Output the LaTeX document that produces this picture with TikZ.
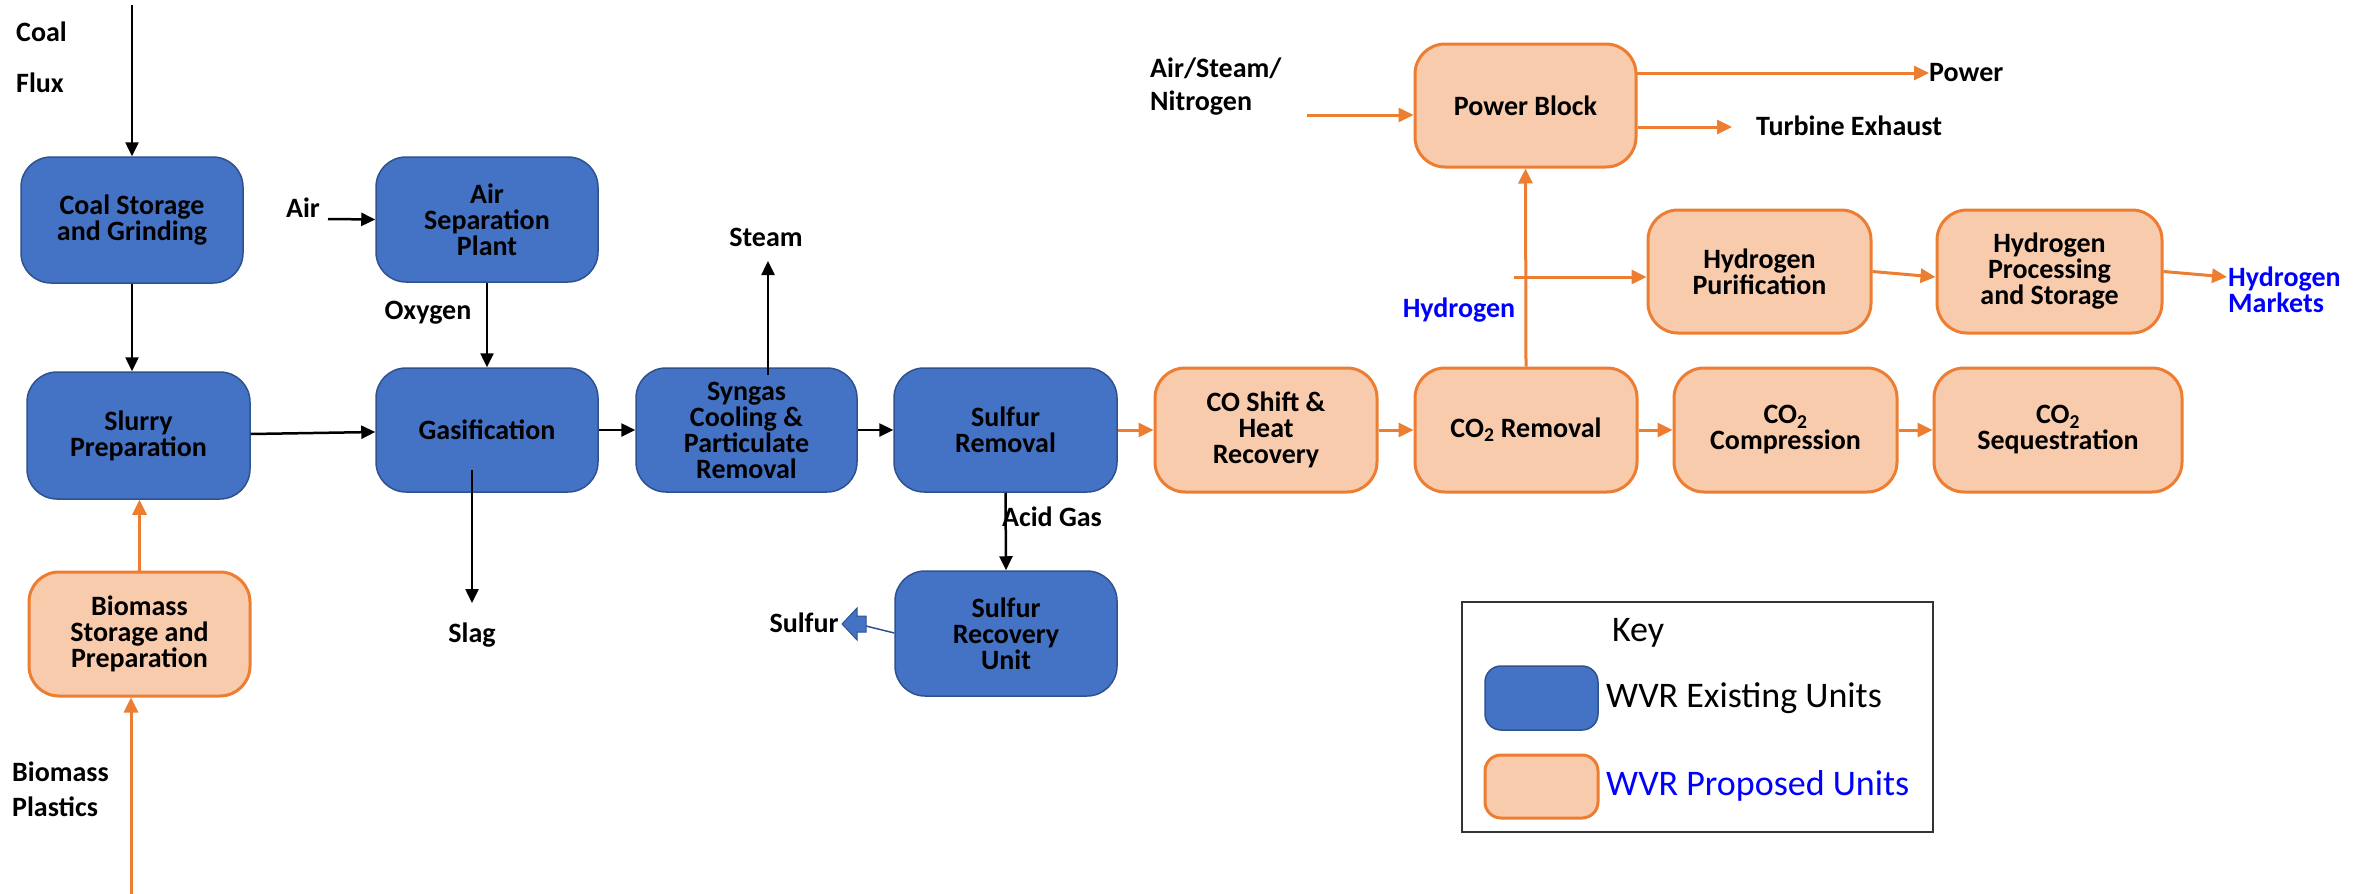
\documentclass[tikz,border=0pt]{standalone}
\usepackage{fontspec}
\setmainfont{Carlito}
\usetikzlibrary{arrows.meta}
\definecolor{bluefill}{HTML}{4472C4}
\definecolor{blueedge}{HTML}{2F528F}
\definecolor{orfill}{HTML}{F8CBAD}
\definecolor{oredge}{HTML}{ED7D31}
\definecolor{txtblue}{HTML}{0000FF}
\begin{document}
\begin{tikzpicture}[x=1pt,y=-1pt,
  unit/.style={rectangle, rounded corners=30pt, inner sep=0pt, align=center,
    font=\fontsize{28}{26}\selectfont\bfseries},
  existing/.style={unit, fill=bluefill, draw=blueedge, line width=1.5pt},
  proposed/.style={unit, fill=orfill, draw=oredge, line width=3pt},
  lbl/.style={inner sep=0pt, font=\fontsize{28}{26}\selectfont\bfseries, align=left},
  bluelbl/.style={lbl, text=txtblue},
  keytxt/.style={inner sep=0pt, font=\fontsize{36}{40}\selectfont},
  blk/.style={draw=black, line width=2.5pt, -{Triangle[length=14pt,width=13pt]}},
  org/.style={draw=oredge, line width=3pt, -{Triangle[length=15pt,width=14pt]}},
]
\fill[white] (0,0) rectangle (2369,894);
\useasboundingbox (0,0) rectangle (2369,894);

% ---------- units ----------
\node[existing, minimum width=222pt, minimum height=126pt] (coal) at (132,220) {Coal Storage\\and Grinding};
\node[existing, minimum width=222pt, minimum height=125pt] (asp) at (487,219.5) {Air\\Separation\\Plant};
\node[existing, minimum width=223pt, minimum height=127pt] (slurry) at (138.5,435.5) {Slurry\\Preparation};
\node[existing, minimum width=222pt, minimum height=124pt] (gas) at (487,430) {Gasification};
\node[existing, minimum width=221pt, minimum height=124pt] (syngas) at (746.5,430) {Syngas\\Cooling \&\\Particulate\\Removal};
\node[existing, minimum width=223pt, minimum height=124pt] (srem) at (1005.5,430) {Sulfur\\Removal};
\node[existing, minimum width=222pt, minimum height=125pt] (srec) at (1006,633.5) {Sulfur\\Recovery\\Unit};
\node[proposed, minimum width=221pt, minimum height=124pt] (biomass) at (139.5,634) {Biomass\\Storage and\\Preparation};
\node[proposed, minimum width=222pt, minimum height=124pt] (shift) at (1266,430) {CO Shift \&\\Heat\\Recovery};
\node[proposed, minimum width=222pt, minimum height=124pt] (co2rem) at (1526,430) {CO\textsubscript{2} Removal};
\node[proposed, minimum width=223pt, minimum height=124pt] (co2comp) at (1785.5,430) {CO\textsubscript{2}\\Compression};
\node[proposed, minimum width=248pt, minimum height=124pt] (co2seq) at (2058,430) {CO\textsubscript{2}\\Sequestration};
\node[proposed, minimum width=221pt, minimum height=123pt] (power) at (1525.5,105.5) {Power Block};
\node[proposed, minimum width=223pt, minimum height=123pt] (h2pur) at (1759.5,271.5) {Hydrogen\\Purification};
\node[proposed, minimum width=225pt, minimum height=123pt] (h2proc) at (2049.5,271.5) {Hydrogen\\Processing\\and Storage};

% ---------- labels ----------
\node[lbl, anchor=west] (coallbl) at (16,32) {Coal};
\node[lbl, anchor=west] (fluxlbl) at (16,83) {Flux};
\node[lbl] (airlbl) at (303,208) {Air};
\node[lbl] (oxylbl) at (428,313) {Oxygen};
\node[lbl] (slaglbl) at (472,635) {Slag};
\node[lbl] (steamlbl) at (766,237) {Steam};
\node[lbl] (acidlbl) at (1052,517) {Acid Gas};
\node[lbl] (sulfurlbl) at (804,623) {Sulfur};
\node[lbl, anchor=west] (biolbl) at (12,772) {Biomass};
\node[lbl, anchor=west] (plaslbl) at (12,807) {Plastics};
\node[lbl, anchor=west] (asnlbl) at (1150,86.5) {Air/Steam/\\[7pt]Nitrogen};
\node[lbl, anchor=west] (pwrlbl) at (1929,73) {Power};
\node[lbl, anchor=west] (telbl) at (1756,126) {Turbine Exhaust};
\node[bluelbl] (h2lbl) at (1459,310) {Hydrogen};
\node[bluelbl, anchor=west] (mktlbl) at (2228,289.5) {Hydrogen\\Markets};

% ---------- free ends ----------
\coordinate (coalin) at (132,5);
\coordinate (airin) at (328,219);
\coordinate (slagst) at (472,470);
\coordinate (slagend) at (472,603);
\coordinate (steamst) at (768,375);
\coordinate (steamend) at (768,261);
\coordinate (bioin) at (131,894);
\coordinate (asnin) at (1307,115);
\coordinate (teend) at (1732,127);
\coordinate (pwrout) at (1636,73);
\coordinate (brs) at (1514,277);
\coordinate (mkt) at (2227,277);

% ---------- black connectors ----------
\draw[blk] (coalin) -- (coal.north);
\draw[blk] (coal.south) -- (coal.south |- slurry.north);
\draw[blk] (airin) -- (asp.west);
\draw[blk] (asp.south) -- (gas.north);
\draw[blk] ([yshift=1.5pt]slurry.east) -- ([yshift=-2pt]gas.west);
\draw[blk] (gas.east) -- (syngas.west);
\draw[blk] (slagst) -- (slagend);
\draw[blk] (steamst) -- (steamend);
\draw[blk] (syngas.east) -- (srem.west);
\draw[blk] (srem.south) -- (srec.north);

% sulfur block arrow
\draw[blueedge, line width=1.5pt] ([yshift=0.5pt]srec.west) -- (866,626);
\filldraw[fill=bluefill, draw=blueedge, line width=1pt]
  (842,624) -- (857,608) -- (857,616) -- (866,616) -- (866,632) -- (857,632) -- (857,640) -- cycle;

% ---------- orange connectors ----------
\draw[org] (bioin) -- (bioin |- biomass.south);
\draw[org] (biomass.north) -- (biomass.north |- slurry.south);
\draw[org] (srem.east) -- (shift.west);
\draw[org] (shift.east) -- (co2rem.west);
\draw[org] (co2rem.east) -- (co2comp.west);
\draw[org] (co2comp.east) -- (co2seq.west);
\draw[org] (co2rem.north) -- (power.south);
\draw[org] (brs) -- (brs -| h2pur.west);
\draw[org] (h2pur.east) -- ([yshift=-5.5pt]h2proc.west);
\draw[org] (h2proc.east) -- (mkt);
\draw[org] (asnin) -- (asnin -| power.west);
\draw[org] (pwrout) -- (pwrlbl.west);
\draw[org] (power.east |- teend) -- (teend);

% ---------- key ----------
\node[draw=black!80, line width=2.5pt, minimum width=471pt, minimum height=230pt, inner sep=0pt] (keybox) at (1697.5,717) {};
\node[keytxt] (keytitle) at (1638,633) {Key};
\node[rectangle, rounded corners=16pt, fill=bluefill, draw=blueedge, line width=1.5pt, minimum width=113pt, minimum height=64pt] (keyblue) at (1541.5,698) {};
\node[rectangle, rounded corners=16pt, fill=orfill, draw=oredge, line width=3pt, minimum width=113pt, minimum height=63pt] (keyorange) at (1541.5,786.5) {};
\node[keytxt, anchor=west] (keyex) at (1606,698) {WVR Existing Units};
\node[keytxt, anchor=west, text=txtblue] (keypr) at (1606,786) {WVR Proposed Units};
\end{tikzpicture}
\end{document}
